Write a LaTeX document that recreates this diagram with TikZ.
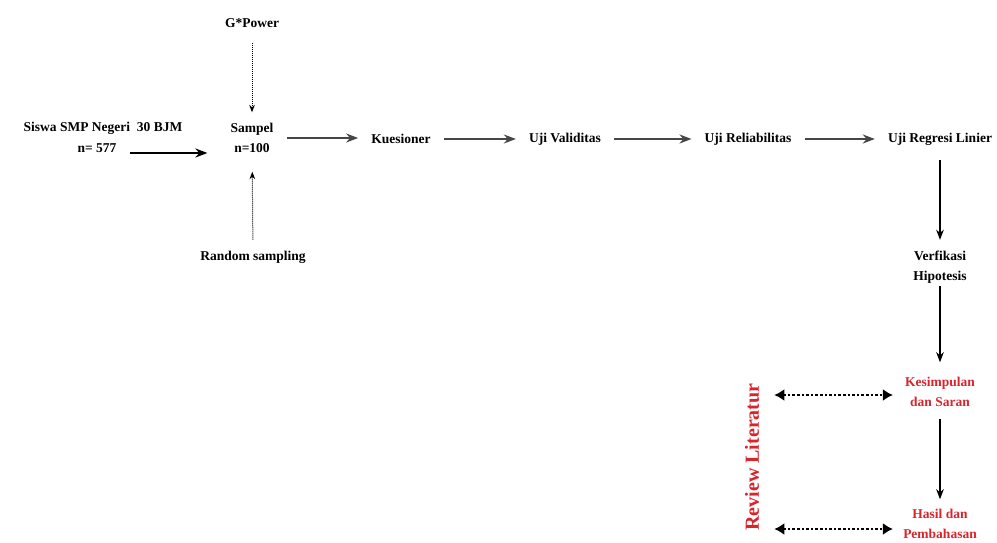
\documentclass[tikz,border=0pt]{standalone}
\usepackage{fontspec}
\setmainfont{Liberation Serif}
\usepackage{tikz}
\definecolor{myRed}{RGB}{218,36,44}
\definecolor{myGray}{RGB}{70,70,70}
\usetikzlibrary{arrows.meta,positioning}
\tikzset{
  >=Stealth,
  x=1pt,y=-1pt,
  font=\fontsize{13.5}{19.5}\selectfont\bfseries,
  lbl/.style={inner sep=1pt,align=center},
  note/.style={lbl,text=myRed},
  flow/.style={draw=myGray,->,line width=2pt,shorten <=12pt,shorten >=12pt},
  down/.style={draw,->,line width=1.6pt},
  dots/.style={draw,->,densely dotted,line width=1pt},
  link/.style={draw,{Latex[length=10pt,width=12pt]}-{Latex[length=10pt,width=12pt]},dotted,line width=2.6pt},
}

\begin{document}
\begin{tikzpicture}
  \useasboundingbox (0,0) rectangle (997,543);
  % population and sample
  \node (gpow) [lbl] at (252,23) {G*Power};
  \node (siswa) [lbl] at (103,128) {Siswa SMP Negeri\ \ 30 BJM};
  \node (npop) [lbl] at (97,148) {n= 577};
  \node (samp) [lbl] at (252,138) {Sampel\\n=100};
  \node (rand) [lbl] at (253,257) {Random sampling};
  % main flow
  \node (kues) [lbl] at (401,139) {Kuesioner};
  \node (valid) [lbl] at (565,139) {Uji Validitas};
  \node (reli) [lbl] at (748,139) {Uji Reliabilitas};
  \node (regr) [lbl] at (940,139) {Uji Regresi Linier};
  \node (verif) [lbl] at (940,267) {Verfikasi\\Hipotesis};
  \node (kesim) [note] at (940,392) {Kesimpulan\\dan Saran};
  \node (hasil) [note] at (940,524) {Hasil dan\\Pembahasan};
  \node (review) [note,rotate=90,font=\fontsize{20}{24}\selectfont\bfseries] at (752,457) {Review Literatur};

  \path [draw,->,line width=2pt,shorten <=12pt,shorten >=22pt] ([yshift=-5pt]npop.east) -- ([yshift=-5pt]npop.east -| samp.west);
  \path [dots,shorten <=14pt,shorten >=10pt] (gpow) -- (samp);
  \path [dots,shorten <=10pt,shorten >=18pt] (rand) -- (samp);
  \path [flow] (samp.east) -- (samp.east -| kues.west);
  \path [flow] (kues) -- (valid);
  \path [flow] (valid) -- (reli);
  \path [flow] (reli) -- (regr);
  \path [down,shorten <=14pt,shorten >=10pt] (regr) -- (verif);
  \path [down,shorten <=2pt,shorten >=14pt] (verif) -- (kesim);
  \path [down,shorten <=11pt,shorten >=9pt] (kesim) -- (hasil);
  \path [link,shorten <=14pt,shorten >=11pt] ([yshift=-3pt]review.south |- kesim) -- ([yshift=-3pt]kesim.west);
  \path [link,shorten <=14pt,shorten >=11pt] ([yshift=-5pt]review.south |- hasil) -- ([yshift=-5pt]hasil.center -| kesim.west);
\end{tikzpicture}
\end{document}
